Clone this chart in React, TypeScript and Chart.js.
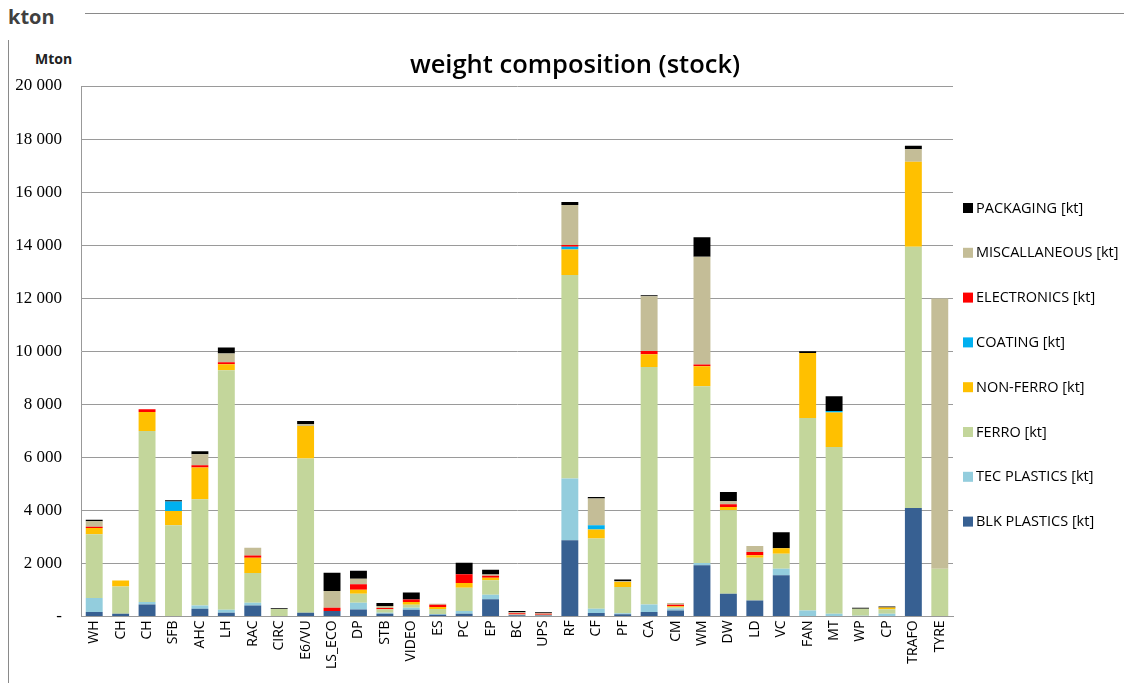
import React, { useEffect, useRef } from 'react';
import { Chart, registerables } from 'chart.js';

Chart.register(...registerables);

const categories = ['WH','CH','CH','SFB','AHC','LH','RAC','CIRC','E6/VU','LS_ECO','DP','STB','VIDEO','ES','PC','EP','BC','UPS','RF','CF','PF','CA','CM','WM','DW','LD','VC','FAN','MT','WP','CP','TRAFO','TYRE'];

const blkPlastics = [162,100,453,0,290,140,415,0,140,200,264,100,253,64,100,642,40,30,2868,125,80,162,226,1925,857,604,1547,0,0,0,0,4087,0];
const tecPlastics = [528,0,87,0,125,113,100,0,0,0,253,40,75,30,100,177,0,0,2328,166,40,290,75,87,0,0,253,226,100,20,100,0,0];
const ferro = [2404,1030,6453,3434,4000,9031,1117,275,5812,0,340,125,113,189,883,540,30,30,7673,2642,990,8956,40,6669,3144,1611,566,7257,6288,270,170,9850,1800];
const nonFerro = [238,226,717,540,1196,226,581,0,1230,0,151,0,98,75,174,100,0,0,970,340,189,479,40,755,125,87,200,2453,1298,0,70,3208,0];
const coating = [0,0,0,355,0,0,0,0,0,0,0,0,0,0,0,0,0,0,98,162,0,0,0,0,0,0,0,0,60,0,0,0,0];
const electronics = [45,0,100,0,87,75,87,0,0,128,200,50,100,80,328,75,50,40,64,0,0,125,60,64,100,125,0,0,0,0,0,0,0];
const miscellaneous = [208,0,0,0,415,328,290,0,75,626,215,75,0,40,0,50,40,30,1510,1008,40,2064,60,4061,113,226,0,0,0,0,0,468,10190];
const packaging = [64,0,0,50,113,226,0,35,113,694,302,113,264,0,442,177,40,30,113,60,50,38,0,732,351,0,604,64,555,38,37,136,0];

const seriesNames = ['BLK PLASTICS [kt]','TEC PLASTICS [kt]','FERRO [kt]','NON-FERRO [kt]','COATING [kt]','ELECTRONICS [kt]','MISCALLANEOUS [kt]','PACKAGING [kt]'];
const seriesColors = ['#376092','#93CDDD','#C3D69B','#FFC000','#00B0F0','#FF0000','#C4BD97','#000000'];
const seriesData = [blkPlastics, tecPlastics, ferro, nonFerro, coating, electronics, miscellaneous, packaging];

const titleText = 'weight composition (stock)';
const SANS = '"Open Sans", Lato, sans-serif';
const SERIF = '"Liberation Serif", "DejaVu Serif", serif';

// Draws the title (centred over the page) and the right-hand legend list.
const overlayPlugin = {
  id: 'overlay',
  afterDraw(chart: any) {
    const ctx = chart.ctx;
    const area = chart.chartArea;
    ctx.save();
    ctx.fillStyle = '#000';
    ctx.font = `600 25.5px ${SANS}`;
    ctx.textAlign = 'center';
    ctx.textBaseline = 'middle';
    ctx.fillText(titleText, 565, 26);

    const sets = chart.data.datasets;
    const x0 = area.right + 10;
    const y0 = 163;
    const step = 44.8;
    ctx.font = `14.5px ${SANS}`;
    ctx.textAlign = 'left';
    for (let k = 0; k < sets.length; k++) {
      const ds = sets[sets.length - 1 - k];
      const y = y0 + k * step;
      ctx.fillStyle = ds.backgroundColor;
      ctx.fillRect(x0, y, 10, 10);
      ctx.fillStyle = '#000';
      ctx.fillText(ds.label, x0 + 13, y + 5.5);
    }
    ctx.restore();
  },
};

export default function App() {
  const ref = useRef<HTMLCanvasElement | null>(null);
  useEffect(() => {
    if (!ref.current) return;
    const chart = new Chart(ref.current, {
      type: 'bar',
      data: {
        labels: categories,
        datasets: seriesNames.map((name, i) => ({
          label: name,
          data: seriesData[i],
          backgroundColor: seriesColors[i],
          borderWidth: 0,
          categoryPercentage: 1,
          barPercentage: 0.64,
        })),
      },
      plugins: [overlayPlugin],
      options: {
        animation: false,
        responsive: false,
        layout: { padding: { left: 5, right: 171, top: 46, bottom: 10 } },
        plugins: {
          title: { display: false },
          legend: { display: false },
          tooltip: { enabled: false },
        },
        scales: {
          x: {
            stacked: true,
            grid: { display: false, drawTicks: false },
            border: { color: '#999' },
            ticks: {
              color: '#000',
              font: { family: SANS, size: 14 },
              maxRotation: 90,
              minRotation: 90,
              autoSkip: false,
              padding: 4,
            },
          },
          y: {
            stacked: true,
            min: 0,
            max: 20000,
            afterFit: (scale: any) => { scale.width = 66; },
            grid: { color: '#9a9a9a', drawTicks: false },
            border: { color: '#999' },
            ticks: {
              stepSize: 2000,
              color: '#000',
              font: { family: SERIF, size: 17 },
              padding: 19,
              callback: (v: any) => {
                const n = Number(v);
                if (n === 0) return '-';
                const th = Math.floor(n / 1000);
                const rest = String(n % 1000).padStart(3, '0');
                return `${th} ${rest}`;
              },
            },
          },
        },
      },
    });
    return () => chart.destroy();
  }, []);

  return (
    <div style={{ position: 'absolute', left: 0, top: 0, width: 1124, height: 683, background: '#fff', overflow: 'hidden' }}>
      <div style={{ position: 'absolute', left: 8, top: 3, fontFamily: SANS, fontWeight: 'bold', fontSize: 20, lineHeight: '28px', color: '#404040' }}>kton</div>
      <div style={{ position: 'absolute', left: 85, top: 13, width: 1039, height: 1, background: '#8a8a8a' }} />
      <div style={{ position: 'absolute', left: 8, top: 40, width: 1, height: 643, background: '#8a8a8a' }} />
      <div style={{ position: 'absolute', left: 35, top: 50, fontFamily: SANS, fontWeight: 'bold', fontSize: 14, lineHeight: '18px', color: '#222' }}>Mton</div>
      <canvas ref={ref} width={1114} height={643} style={{ position: 'absolute', left: 10, top: 40, width: 1114, height: 643 }} />
    </div>
  );
}
